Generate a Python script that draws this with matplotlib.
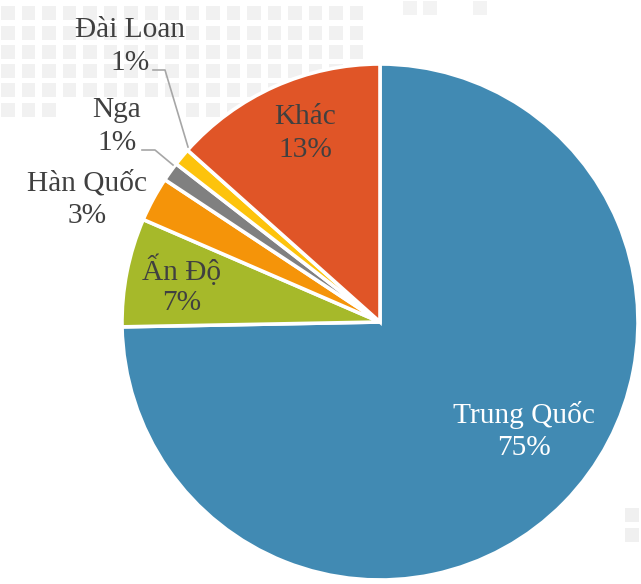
import matplotlib.pyplot as plt
import numpy as np

# data
countries = ["Trung Quốc", "Ấn Độ", "Hàn Quốc", "Nga", "Đài Loan", "Khác"]
shares = [74.7, 6.8, 2.8, 1.2, 1.1, 13.4]
pct_labels = ["75%", "7%", "3%", "1%", "1%", "13%"]

colors = ["#418ab3", "#a6b92a", "#f59409", "#808080", "#fdc30c", "#e05527"]
text_colors = ["white", "#404040", "#404040", "#404040", "#404040", "#404040"]

W, H = 641, 584
FONT = ["Liberation Serif", "DejaVu Serif"]

def py(y):
    # pixel row -> data y
    return H - y

# label centres (pixels): name line, pct line
label_pos = [(524, 415, 448), (182, 270, 303), (87, 183, 216),
             (117, 110, 143), (130, 30, 63), (305, 117, 150)]

fig = plt.figure(figsize=(W / 100, H / 100), dpi=100)
ax = fig.add_axes([0, 0, 1, 1])

# faint dotted map in the background
rows = [13, 33, 52, 71, 90, 110]
for r, yy in enumerate(rows):
    xs = np.arange(8, 372, 20.5)
    if r == 5:
        xs = xs[(xs < 60) | ((xs > 180) & (xs < 260))]
    ax.scatter(xs, [py(yy)] * len(xs), marker="s", s=95, color="#f1f1f1",
               edgecolors="none", zorder=0)
ax.scatter([410, 430, 480], [py(8)] * 3, marker="s", s=95, color="#f3f3f3",
           edgecolors="none", zorder=0)
ax.scatter([632, 632], [py(515), py(535)], marker="s", s=95, color="#f0f0f0",
           edgecolors="none", zorder=0)

wedges, _ = ax.pie(shares, colors=colors, startangle=90, counterclock=False,
                   center=(380, py(322)), radius=258,
                   wedgeprops=dict(edgecolor="white", linewidth=2.6))
for w in wedges:
    w.set_zorder(2)

for name, pct, tc, (x, y1, y2) in zip(countries, pct_labels, text_colors, label_pos):
    ax.text(x, py(y1), name, ha="center", va="center", fontsize=21.2,
            color=tc, family=FONT, zorder=3)
    ax.text(x, py(y2), pct, ha="center", va="center", fontsize=21.2,
            color=tc, family=FONT, zorder=3)

# leader lines for the small slices
ax.plot([153, 165, 188], [py(70), py(70), py(147)], color="#a6a6a6", lw=1.2, zorder=3)
ax.plot([142, 155, 173], [py(150), py(150), py(165)], color="#a6a6a6", lw=1.2, zorder=3)

ax.set_xlim(0, W)
ax.set_ylim(0, H)
ax.set_aspect("equal")
ax.axis("off")

fig.savefig("out.png", dpi=100, facecolor="white")
